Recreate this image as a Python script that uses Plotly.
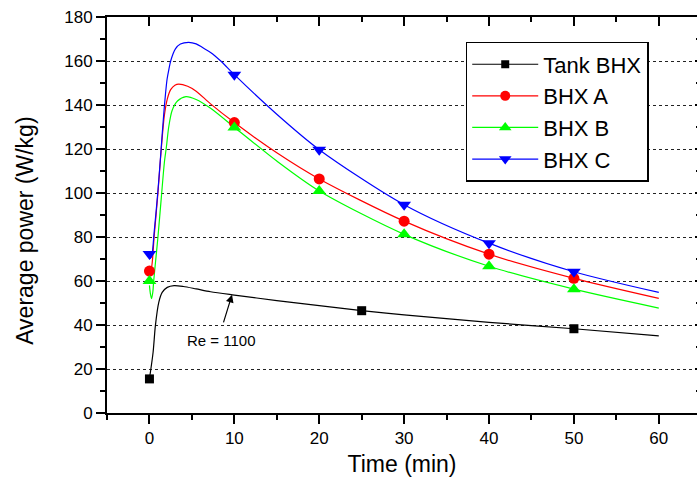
import plotly.graph_objects as go

# ---------------- data ----------------
series_names = ["Tank BHX", "BHX A", "BHX B", "BHX C"]
series_colors = ["#000000", "#ff0000", "#00ff00", "#0000ff"]
series_symbols = ["square", "circle", "triangle-up", "triangle-down"]
series_msize = [9, 11, 12, 12]

# measured points (markers)
tank_t = [0, 25, 50]
tank_p = [15.5, 46.5, 38.3]
bhx_t = [0, 10, 20, 30, 40, 50]
a_p = [64.5, 132.0, 106.4, 87.2, 72.2, 61.2]
b_p = [60.0, 129.8, 100.9, 81.2, 66.7, 56.3]
c_p = [72.3, 153.8, 119.7, 94.7, 77.2, 64.2]

# model curves
tank_curve_t = [0, 0.43, 0.7, 1.1, 1.5, 2.1, 2.9, 4.0, 5.5, 7.2, 10, 15, 20, 25, 30, 40, 50, 60]
tank_curve_p = [15.5, 27.6, 39.7, 50.3, 54.8, 57.1, 57.9, 57.5, 56.4, 55.1, 53.6, 51.1, 48.8, 46.5, 44.6, 41.2, 38.3, 35.1]

a_curve_t = [0, 0.24, 0.55, 1.0, 1.3, 1.75, 2.1, 2.5, 3.0, 3.45, 4.5, 5.5, 7.2, 10, 15, 20, 30, 40, 50, 60]
a_curve_p = [64, 66, 80, 100, 115.5, 135, 142.7, 147, 149, 149.5, 148.5, 146.3, 140.5, 132, 118.3, 106.4, 87.2, 72.2, 61.2, 52.1]

b_curve_t = [0, 0.12, 0.25, 0.4, 0.5, 0.75, 1.0, 1.4, 1.76, 2.0, 2.27, 2.67, 3.3, 4.3, 5.5, 7.2, 10, 15, 20, 30, 40, 50, 60]
b_curve_p = [58, 54, 52, 55, 60, 70, 80, 98, 114, 121, 130, 137.5, 141.8, 143.8, 142.5, 138.5, 129.9, 114.5, 100.9, 81.2, 66.7, 56.3, 47.7]

c_curve_t = [0, 0.24, 0.55, 1.0, 1.3, 1.7, 2.08, 2.3, 2.5, 3.06, 3.65, 4.6, 5.5, 6.3, 7.2, 8.4, 10, 15, 20, 30, 40, 50, 60]
c_curve_p = [70, 71, 82, 101, 116, 136.7, 151.8, 156.4, 160, 165.5, 167.7, 168.5, 167.8, 166, 163.9, 160, 153.8, 135.8, 119.7, 94.7, 77.2, 64.2, 54.8]

x_tickvals = [0, 10, 20, 30, 40, 50, 60]
y_tickvals = [0, 20, 40, 60, 80, 100, 120, 140, 160, 180]

x_title = "Time (min)"
y_title = "Average power (W/kg)"
annot_text = "Re = 1100"
annot_tip = (9.73, 53.8)
annot_tail = (8.67, 40.5)
annot_text_pos = (8.47, 32.9)

FONT = "Arial, Liberation Sans, sans-serif"

curves = [(tank_curve_t, tank_curve_p), (a_curve_t, a_curve_p),
          (b_curve_t, b_curve_p), (c_curve_t, c_curve_p)]
marks = [(tank_t, tank_p), (bhx_t, a_p), (bhx_t, b_p), (bhx_t, c_p)]

fig = go.Figure()

# curves
for name, col, (ct, cp) in zip(series_names, series_colors, curves):
    fig.add_trace(go.Scatter(x=ct, y=cp, mode="lines",
                             line=dict(color=col, width=1.2, shape="spline", smoothing=0.8),
                             showlegend=False, hoverinfo="skip", legendgroup=name))
# markers
for name, col, sym, ms, (mt, mp) in zip(series_names, series_colors, series_symbols, series_msize, marks):
    fig.add_trace(go.Scatter(x=mt, y=mp, mode="markers",
                             marker=dict(color=col, symbol=sym, size=ms, line=dict(width=0)),
                             showlegend=False, legendgroup=name, name=name))
# legend entries
for name, col, sym, ms in zip(series_names, series_colors, series_symbols, series_msize):
    fig.add_trace(go.Scatter(x=[None], y=[None], mode="lines+markers", name=name,
                             line=dict(color=col, width=1.2),
                             marker=dict(color=col, symbol=sym, size=ms - 1, line=dict(width=0)),
                             legendgroup=name))

# dummy trace for frame axes
fig.add_trace(go.Scatter(x=[None], y=[None], xaxis="x2", yaxis="y2",
                         showlegend=False, hoverinfo="skip"))

fig.add_annotation(x=annot_tip[0], y=annot_tip[1], ax=annot_tail[0], ay=annot_tail[1],
                   axref="x", ayref="y", xref="x", yref="y", text="",
                   showarrow=True, arrowhead=2, arrowsize=1.3, arrowwidth=1.2,
                   arrowcolor="black", standoff=0, startstandoff=0)
fig.add_annotation(x=annot_text_pos[0], y=annot_text_pos[1], xref="x", yref="y",
                   text=annot_text, showarrow=False,
                   font=dict(family=FONT, size=15, color="black"))
# y-axis title (placed as rotated text to match the reference position)
fig.add_annotation(x=-0.139, y=0.46, xref="paper", yref="paper", text=y_title,
                   textangle=-90, showarrow=False, xanchor="center", yanchor="middle",
                   font=dict(family=FONT, size=23, color="black"))

xrange = [-5, 64.5]
yrange = [0, 180]

fig.update_layout(
    width=697, height=486,
    margin=dict(l=107, r=0, t=17, b=73, pad=0),
    plot_bgcolor="white", paper_bgcolor="white",
    font=dict(family=FONT, color="black"),
    xaxis=dict(range=xrange, tickmode="array", tickvals=x_tickvals,
               ticks="outside", ticklen=9, tickwidth=1.5, tickcolor="black",
               showline=True, linewidth=1.8, linecolor="black",
               showgrid=False, zeroline=False,
               tickfont=dict(size=17, family=FONT),
               minor=dict(ticks="outside", ticklen=5, tickwidth=1.5, tickcolor="black",
                          tick0=-5, dtick=5, showgrid=False),
               title=dict(text=x_title, font=dict(size=23, family=FONT), standoff=9)),
    yaxis=dict(range=yrange, tickmode="array", tickvals=y_tickvals,
               ticks="outside", ticklen=9, tickwidth=1.5, tickcolor="black",
               showline=True, linewidth=1.8, linecolor="black",
               showgrid=True, gridcolor="#222222", griddash="dot", gridwidth=1,
               zeroline=False,
               tickfont=dict(size=17, family=FONT),
               minor=dict(ticks="outside", ticklen=5, tickwidth=1.5, tickcolor="black",
                          tick0=0, dtick=10, showgrid=False)),
    xaxis2=dict(range=xrange, overlaying="x", side="top", anchor="y",
                ticks="inside", ticklen=9, tickwidth=1.5, tickcolor="black",
                tickmode="array", tickvals=x_tickvals,
                showline=True, linewidth=1.8, linecolor="black",
                showticklabels=False, showgrid=False, zeroline=False,
                minor=dict(ticks="inside", ticklen=5, tickwidth=1.5, tickcolor="black",
                           tick0=-5, dtick=5, showgrid=False)),
    yaxis2=dict(range=yrange, overlaying="y", side="right", anchor="x",
                ticks="inside", ticklen=2, tickwidth=1.5, tickcolor="black",
                tickmode="array", tickvals=y_tickvals,
                showline=False, showticklabels=False, showgrid=False, zeroline=False,
                minor=dict(ticks="inside", ticklen=1, tickwidth=1.5, tickcolor="black",
                           tick0=0, dtick=10, showgrid=False)),
    legend=dict(x=0.608, y=0.937, xanchor="left", yanchor="top",
                bgcolor="white", bordercolor="black", borderwidth=1.5,
                font=dict(size=22, family=FONT), tracegroupgap=0,
                itemwidth=66, entrywidth=125, entrywidthmode="pixels"),
)

fig.write_html("out.html")
